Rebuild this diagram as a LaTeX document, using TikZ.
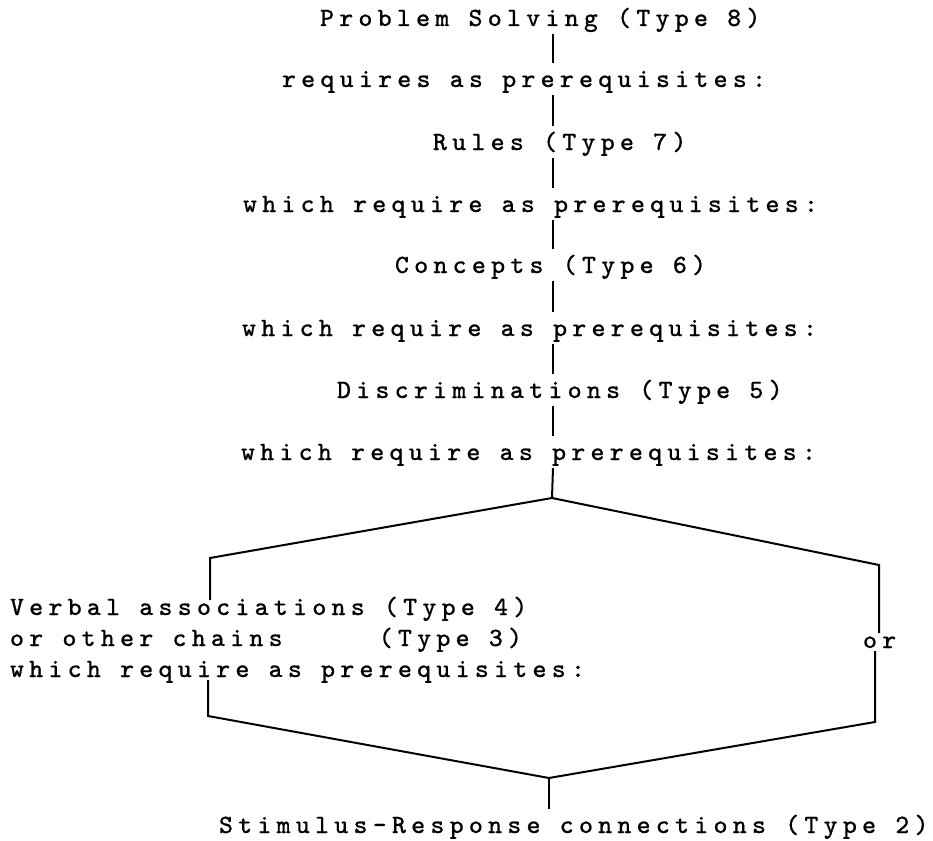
\documentclass[tikz,border=0pt]{standalone}
\usepackage{fontspec}
\newfontfamily\typewriter{Latin Modern Mono}[LetterSpace=19.9,FakeBold=0.6]

\begin{document}
\begin{tikzpicture}[x=0.3pt,y=-0.3pt,
    txt/.style={anchor=base west, inner sep=0pt, outer sep=0pt,
      text height=7.2pt, text depth=2.4pt,
      font=\typewriter\fontsize{7.9}{9}\selectfont},
    tight/.style={txt, text height=4.5pt, text depth=0.9pt},
    link/.style={black, line width=0.6pt}]
            \useasboundingbox (0,0) rectangle (933,841);

            % chain of prerequisites
            \node[txt] (ps) at (320,26) {Problem Solving (Type 8)};
            \node[txt] (req) at (282,87) {requires as prerequisites:};
            \node[txt] (rules) at (433,150) {Rules (Type 7)};
            \node[txt] (wr1) at (243,212) {which require as prerequisites:};
            \node[txt] (conc) at (395,273) {Concepts (Type 6)};
            \node[txt] (wr2) at (242,336) {which require as prerequisites:};
            \node[txt] (disc) at (337,398) {Discriminations (Type 5)};
            \node[txt] (wr3) at (241,460) {which require as prerequisites:};

            % the two branches
            \node[tight] (va) at (10,615) {Verbal associations (Type 4)};
            \node[tight] (oc) at (10,646) {or other chains~~~~~(Type 3)};
            \node[tight] (wr4) at (10,677) {which require as prerequisites:};
            \node[tight] (orx) at (863,648) {or};
            \node[txt] (sr) at (219,833) {Stimulus-Response connections (Type 2)};

            \coordinate (spine) at (553,0);
            \coordinate (top) at (552,498);
            \coordinate (ul) at (210,558);
            \coordinate (ur) at (879,565);
            \coordinate (ll) at (208,716);
            \coordinate (lr) at (875,722);
            \coordinate (bot) at (549,778);

            \draw[link] (ps.south -| spine) -- (req.north -| spine);
            \draw[link] (req.south -| spine) -- (rules.north -| spine);
            \draw[link] (rules.south -| spine) -- (wr1.north -| spine);
            \draw[link] (wr1.south -| spine) -- (conc.north -| spine);
            \draw[link] (conc.south -| spine) -- (wr2.north -| spine);
            \draw[link] (wr2.south -| spine) -- (disc.north -| spine);
            \draw[link] (disc.south -| spine) -- (wr3.north -| spine);
            \draw[link] (wr3.south -| spine) -- (top);

            \draw[link] (va.north -| ul) -- (ul) -- (top) -- (ur) -- (orx.north -| ur);
            \draw[link] (wr4.south -| ll) -- (ll) -- (bot) -- (lr) -- (orx.south -| lr);
            \draw[link] (bot) -- (sr.north -| bot);
        \end{tikzpicture}
\end{document}
